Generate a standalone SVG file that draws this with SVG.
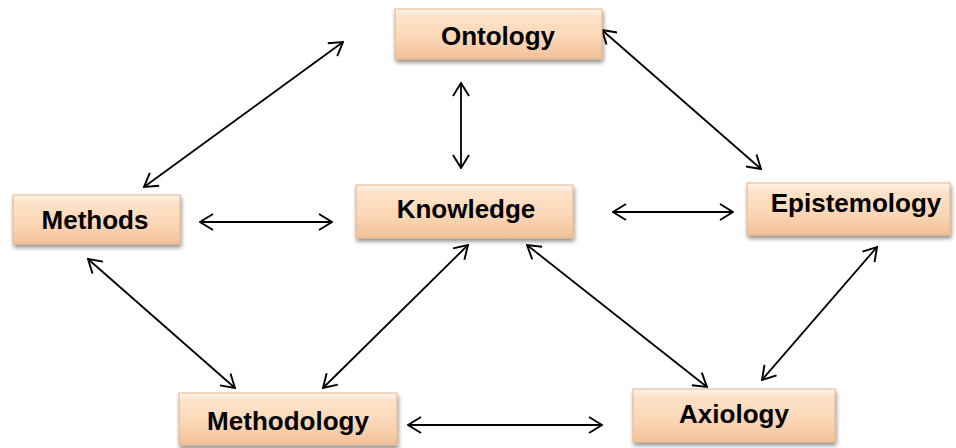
<svg xmlns="http://www.w3.org/2000/svg" width="956" height="448" viewBox="0 0 956 448">
<style>
.box{fill:url(#peach);stroke:#e3b48c;stroke-width:1;filter:url(#sh)}
.lbl{font-family:"Liberation Sans",Arial,sans-serif;font-weight:bold;font-size:26px;fill:#000;text-anchor:middle}
.con{stroke:#000;stroke-width:1.8;fill:none;marker-start:url(#ah);marker-end:url(#ah)}
</style>
<defs>
<linearGradient id="peach" x1="0" y1="0" x2="0" y2="1">
<stop offset="0" stop-color="#fff6ec"/>
<stop offset="0.15" stop-color="#fde2c9"/>
<stop offset="0.6" stop-color="#fbd6b5"/>
<stop offset="1" stop-color="#f1c098"/>
</linearGradient>
<filter id="sh" x="-10%" y="-20%" width="125%" height="160%">
<feGaussianBlur in="SourceAlpha" stdDeviation="2"/>
<feOffset dx="1" dy="3" result="b"/>
<feComponentTransfer><feFuncA type="linear" slope="0.45"/></feComponentTransfer>
<feMerge><feMergeNode/><feMergeNode in="SourceGraphic"/></feMerge>
</filter>
<marker id="ah" viewBox="0 0 15 18" refX="14" refY="9" markerWidth="15" markerHeight="18" markerUnits="userSpaceOnUse" orient="auto-start-reverse">
<path d="M1,1 L14,9 L1,17" fill="none" stroke="#000" stroke-width="1.9"/>
</marker>
</defs>
<g id="connectors">
<line class="con" x1="144" y1="187" x2="343" y2="42"/>
<line class="con" x1="461" y1="83" x2="461" y2="168"/>
<line class="con" x1="602" y1="30" x2="761" y2="169"/>
<line class="con" x1="200" y1="222" x2="332" y2="222"/>
<line class="con" x1="613" y1="212" x2="733" y2="212"/>
<line class="con" x1="88" y1="259" x2="235" y2="388"/>
<line class="con" x1="468" y1="245" x2="323" y2="388"/>
<line class="con" x1="527" y1="245" x2="707" y2="387"/>
<line class="con" x1="877" y1="247" x2="762" y2="380"/>
<line class="con" x1="408" y1="425" x2="602" y2="425"/>
</g>
<g id="ontology">
<rect class="box" x="395" y="9" width="207" height="50"/>
<text class="lbl" x="498" y="45">Ontology</text>
</g>
<g id="methods">
<rect class="box" x="13" y="195" width="167" height="49"/>
<text class="lbl" x="95" y="229">Methods</text>
</g>
<g id="knowledge">
<rect class="box" x="356" y="185" width="217" height="53"/>
<text class="lbl" x="466" y="218">Knowledge</text>
</g>
<g id="epistemology">
<rect class="box" x="747" y="183" width="203" height="52"/>
<text class="lbl" x="856" y="212">Epistemology</text>
</g>
<g id="methodology">
<rect class="box" x="179" y="393" width="218" height="52"/>
<text class="lbl" x="288" y="430">Methodology</text>
</g>
<g id="axiology">
<rect class="box" x="633" y="389" width="202" height="53"/>
<text class="lbl" x="734" y="423">Axiology</text>
</g>
</svg>
